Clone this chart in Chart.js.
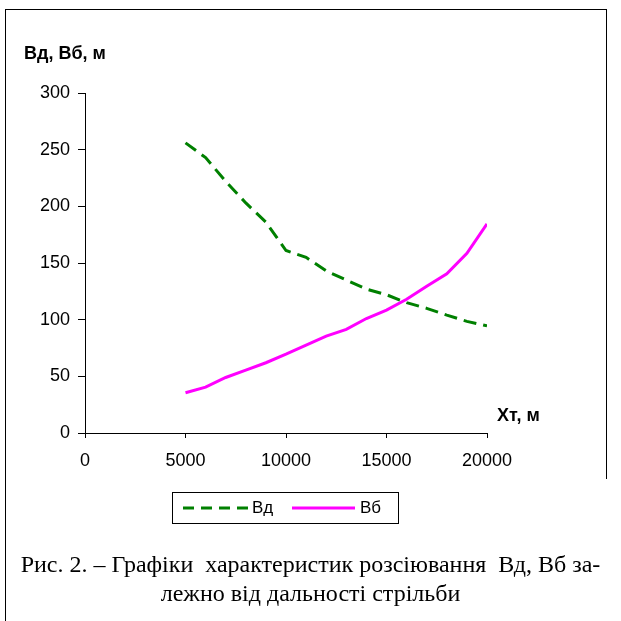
<!DOCTYPE html>
<html>
<head>
<meta charset="utf-8">
<script src="https://cdn.jsdelivr.net/npm/chart.js"></script>
<style>
  html, body { margin: 0; padding: 0; background: #fff; }
  #wrap { position: relative; width: 621px; height: 621px; overflow: hidden; }
  #c { position: absolute; left: 0; top: 0; }
  .frame { position: absolute; background: #000; }
  .lbl { position: absolute; font-family: "Liberation Sans", Arial, sans-serif; font-weight: bold; font-size: 18px; color: #000; white-space: nowrap; }
  #legend { position: absolute; left: 172px; top: 492px; width: 227px; height: 32px; border: 1px solid #000; box-sizing: border-box;
            font-family: "Liberation Sans", Arial, sans-serif; font-size: 17px; }
  #legend .item { position: absolute; top: 4px; height: 22px; line-height: 22px; }
  #legend svg { position: absolute; top: 0; }
  #caption { position: absolute; left: 0; width: 621px; top: 550px; text-align: center;
             font-family: "Liberation Serif", "Times New Roman", serif; font-size: 24px; line-height: 29px; color: #000; }
</style>
</head>
<body>
<div id="wrap">
  <div class="frame" style="left:5px;top:9px;width:602px;height:1px;"></div>
  <div class="frame" style="left:5px;top:9px;width:1px;height:612px;"></div>
  <div class="frame" style="left:606px;top:9px;width:1px;height:470px;"></div>
  <canvas id="c" width="621" height="621"></canvas>
  <div class="lbl" style="left:24px;top:43px;">Вд, Вб, м</div>
  <div class="lbl" style="left:497px;top:405px;">Хт, м</div>
  <div id="legend">
    <svg width="227" height="32" style="left:0;top:0;">
      <line x1="10" y1="15" x2="75" y2="15" stroke="#008000" stroke-width="3" stroke-dasharray="11 7"></line>
      <line x1="119" y1="15" x2="182" y2="15" stroke="#ff00ff" stroke-width="3"></line>
    </svg>
    <span class="item" style="left:79px;">Вд</span>
    <span class="item" style="left:187px;">Вб</span>
  </div>
  <div id="caption">Рис. 2. – Графіки&nbsp; характеристик розсіювання&nbsp; Вд, Вб за-<br>лежно від дальності стрільби</div>
</div>
<script>
// дальність стрільби, м
const xValues = [5000, 6000, 7000, 8000, 9000, 10000, 11000, 12000, 13000, 14000, 15000, 16000, 17000, 18000, 19000, 20000];
// Вд, м
const bdValues = [256, 243, 222, 203, 186, 161, 155, 143, 135, 127, 122, 115, 110, 104, 98.5, 94.5];
// Вб, м
const bbValues = [35.5, 40.5, 49, 55.5, 62, 69.5, 77.5, 85.5, 91.5, 101, 108.5, 118, 129.5, 140.5, 158.5, 184.5];
const xTicks = [0, 5000, 10000, 15000, 20000];
const yTicks = [0, 50, 100, 150, 200, 250, 300];

const toPoints = ys => xValues.map((x, i) => ({ x: x, y: ys[i] }));

const tickFont = { family: '"Liberation Sans", Arial, sans-serif', size: 18 };

new Chart(document.getElementById('c').getContext('2d'), {
  type: 'line',
  data: {
    datasets: [
      { label: 'Вд', data: toPoints(bdValues), borderColor: '#008000', borderWidth: 3, borderDash: [13, 7], pointRadius: 0, tension: 0, fill: false },
      { label: 'Вб', data: toPoints(bbValues), borderColor: '#ff00ff', borderWidth: 3, pointRadius: 0, tension: 0, fill: false }
    ]
  },
  options: {
    responsive: false,
    animation: false,
    layout: { padding: { left: 0, top: 93, right: 134, bottom: 148 } },
    plugins: { legend: { display: false }, tooltip: { enabled: false } },
    scales: {
      x: {
        type: 'linear', min: 0, max: 20000,
        afterBuildTicks: s => { s.ticks = xTicks.map(v => ({ value: v })); },
        afterFit: s => { s.height = 40; },
        ticks: { color: '#000', font: tickFont, padding: 12, maxRotation: 0, callback: v => String(v) },
        grid: { drawOnChartArea: false, tickLength: 5, color: '#000', lineWidth: 1 },
        border: { color: '#000', width: 1 }
      },
      y: {
        min: 0, max: 300,
        afterBuildTicks: s => { s.ticks = yTicks.map(v => ({ value: v })); },
        afterFit: s => { s.width = 85; },
        ticks: { color: '#000', font: tickFont, padding: 8, callback: v => String(v) },
        grid: { drawOnChartArea: false, tickLength: 7, color: '#000', lineWidth: 1 },
        border: { color: '#000', width: 1 }
      }
    }
  }
});
</script>
</body>
</html>
